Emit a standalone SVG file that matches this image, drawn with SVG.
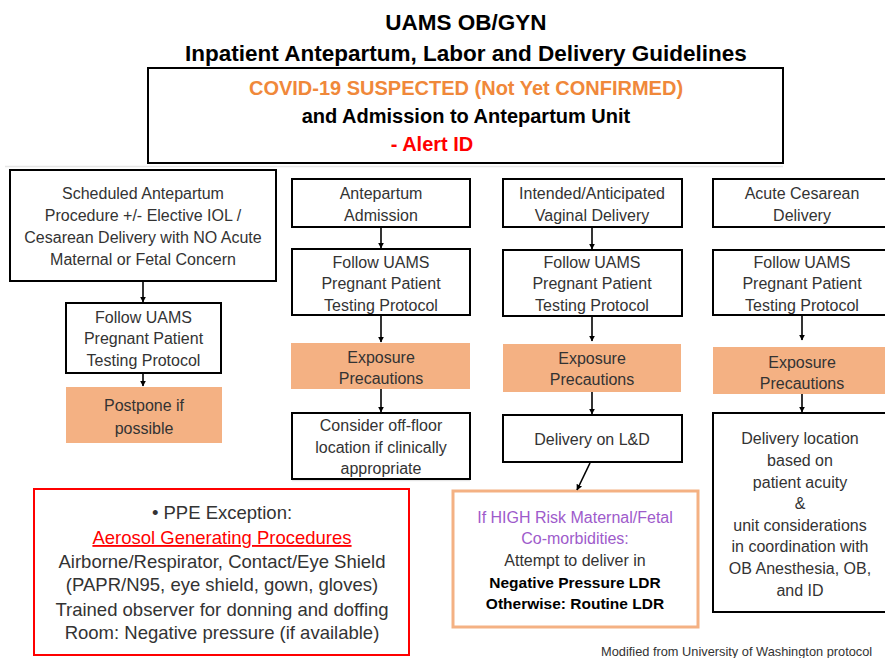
<svg xmlns="http://www.w3.org/2000/svg" width="885" height="658" viewBox="0 0 885 658">
<defs>
<marker id="ah" viewBox="0 0 10 10" refX="9" refY="5" markerWidth="6" markerHeight="6" orient="auto" markerUnits="userSpaceOnUse">
<path d="M0,0 L10,5 L0,10 z" fill="#000"/>
</marker>
<style>
.t{font-family:"Liberation Sans",Arial,sans-serif;text-anchor:middle}
.title{font-size:20px;font-weight:bold;fill:#000}
.body{font-size:16px;fill:#333}
.box{fill:#fff;stroke:#000;stroke-width:2}
.org{fill:#F4B183;stroke:none}
.conn line{stroke:#000;stroke-width:1.6;marker-end:url(#ah)}
.red{font-size:18.5px;fill:#333}
</style>
</defs>
<rect x="0" y="0" width="885" height="658" fill="#fff"/>
<line x1="5" y1="166.5" x2="783" y2="166.5" stroke="#e6e6e6" stroke-width="1.5"/>
<line x1="292" y1="480.5" x2="470" y2="480.5" stroke="#e6e6e6" stroke-width="1.5"/>

<g id="title">
<text class="t title" x="466" y="30" style="font-size:22.5px">UAMS OB/GYN</text>
<text class="t title" x="466" y="61" style="font-size:22.5px">Inpatient Antepartum, Labor and Delivery Guidelines</text>
</g>

<g id="header">
<rect class="box" x="148" y="68" width="635" height="95"/>
<text class="t title" x="466" y="95" style="fill:#F0883A">COVID-19 SUSPECTED (Not Yet CONFIRMED)</text>
<text class="t title" x="466" y="123">and Admission to Antepartum Unit</text>
<text class="t title" x="432" y="151" style="fill:#FF0000">- Alert ID</text>
</g>

<g id="a1">
<rect class="box" x="10" y="170" width="266" height="111"/>
<text class="t body" x="143" y="199">Scheduled Antepartum</text>
<text class="t body" x="143" y="221">Procedure +/- Elective IOL /</text>
<text class="t body" x="143" y="243">Cesarean Delivery with NO Acute</text>
<text class="t body" x="143" y="265">Maternal or Fetal Concern</text>
</g>
<g id="a2">
<rect class="box" x="66" y="303" width="155" height="70"/>
<text class="t body" x="143.5" y="323">Follow UAMS</text>
<text class="t body" x="143.5" y="344">Pregnant Patient</text>
<text class="t body" x="143.5" y="366">Testing Protocol</text>
</g>
<g id="a3">
<rect class="org" x="66" y="387" width="156" height="56"/>
<text class="t body" x="144" y="411">Postpone if</text>
<text class="t body" x="144" y="434">possible</text>
</g>

<g id="b1">
<rect class="box" x="292" y="179" width="178" height="48"/>
<text class="t body" x="381" y="199">Antepartum</text>
<text class="t body" x="381" y="221">Admission</text>
</g>
<g id="b2">
<rect class="box" x="292" y="249" width="178" height="66"/>
<text class="t body" x="381" y="268">Follow UAMS</text>
<text class="t body" x="381" y="289">Pregnant Patient</text>
<text class="t body" x="381" y="311">Testing Protocol</text>
</g>
<g id="b3">
<rect class="org" x="291" y="343" width="179" height="46"/>
<text class="t body" x="381" y="363">Exposure</text>
<text class="t body" x="381" y="384">Precautions</text>
</g>
<g id="b4">
<rect class="box" x="292" y="413" width="178" height="66"/>
<text class="t body" x="381" y="431">Consider off-floor</text>
<text class="t body" x="381" y="453">location if clinically</text>
<text class="t body" x="381" y="474">appropriate</text>
</g>

<g id="c1">
<rect class="box" x="503" y="179" width="179" height="48"/>
<text class="t body" x="592" y="199">Intended/Anticipated</text>
<text class="t body" x="592" y="221">Vaginal Delivery</text>
</g>
<g id="c2">
<rect class="box" x="503" y="250" width="179" height="66"/>
<text class="t body" x="592" y="268">Follow UAMS</text>
<text class="t body" x="592" y="289">Pregnant Patient</text>
<text class="t body" x="592" y="311">Testing Protocol</text>
</g>
<g id="c3">
<rect class="org" x="503" y="344" width="178" height="48"/>
<text class="t body" x="592" y="364">Exposure</text>
<text class="t body" x="592" y="385">Precautions</text>
</g>
<g id="c4">
<rect class="box" x="503" y="415" width="179" height="47"/>
<text class="t body" x="592" y="445">Delivery on L&amp;D</text>
</g>

<g id="d">
<rect x="453" y="491" width="245" height="136" fill="#fff" stroke="#F4B183" stroke-width="3"/>
<text class="t body" x="575" y="523" style="fill:#9E5BCB">If HIGH Risk Maternal/Fetal</text>
<text class="t body" x="575" y="544" style="fill:#9E5BCB">Co-morbidities:</text>
<text class="t body" x="575" y="566">Attempt to deliver in</text>
<text class="t body" x="575" y="588" style="font-weight:bold;fill:#000;font-size:15.5px">Negative Pressure LDR</text>
<text class="t body" x="575" y="609" style="font-weight:bold;fill:#000;font-size:15.5px">Otherwise: Routine LDR</text>
</g>

<g id="e1">
<rect class="box" x="713" y="179" width="180" height="48"/>
<text class="t body" x="802" y="199">Acute Cesarean</text>
<text class="t body" x="802" y="221">Delivery</text>
</g>
<g id="e2">
<rect class="box" x="713" y="250" width="180" height="65"/>
<text class="t body" x="802" y="268">Follow UAMS</text>
<text class="t body" x="802" y="289">Pregnant Patient</text>
<text class="t body" x="802" y="311">Testing Protocol</text>
</g>
<g id="e3">
<rect class="org" x="713" y="347" width="180" height="47"/>
<text class="t body" x="802" y="368">Exposure</text>
<text class="t body" x="802" y="389">Precautions</text>
</g>
<g id="e4">
<rect class="box" x="713" y="413" width="180" height="199"/>
<text class="t body" x="800" y="444">Delivery location</text>
<text class="t body" x="800" y="466">based on</text>
<text class="t body" x="800" y="488">patient acuity</text>
<text class="t body" x="800" y="509">&amp;</text>
<text class="t body" x="800" y="531">unit considerations</text>
<text class="t body" x="800" y="552">in coordination with</text>
<text class="t body" x="800" y="574">OB Anesthesia, OB,</text>
<text class="t body" x="800" y="596">and ID</text>
</g>

<g id="ppe">
<rect x="34" y="489" width="375" height="166" fill="#fff" stroke="#FF0000" stroke-width="2"/>
<text class="t red" x="222" y="519">• PPE Exception:</text>
<text class="t red" x="222" y="544" style="fill:#FF0000;text-decoration:underline">Aerosol Generating Procedures</text>
<text class="t red" x="222" y="568">Airborne/Respirator, Contact/Eye Shield</text>
<text class="t red" x="222" y="591">(PAPR/N95, eye shield, gown, gloves)</text>
<text class="t red" x="222" y="616">Trained observer for donning and doffing</text>
<text class="t red" x="222" y="639">Room: Negative pressure (if available)</text>
</g>

<g id="footer">
<text x="601" y="656" style="font-family:'Liberation Sans',Arial,sans-serif;font-size:12.8px;fill:#333">Modified from University of Washington protocol</text>
</g>

<g id="connectors" class="conn">
<line x1="143" y1="281" x2="143" y2="302"/>
<line x1="143" y1="373" x2="143" y2="386"/>
<line x1="381" y1="227" x2="381" y2="248"/>
<line x1="381" y1="315" x2="381" y2="342"/>
<line x1="381" y1="389" x2="381" y2="412"/>
<line x1="592" y1="227" x2="592" y2="249"/>
<line x1="592" y1="316" x2="592" y2="341"/>
<line x1="592" y1="392" x2="592" y2="414"/>
<line x1="590" y1="463" x2="577" y2="490"/>
<line x1="802" y1="315" x2="802" y2="340"/>
<line x1="802" y1="394" x2="802" y2="412"/>
</g>
</svg>
